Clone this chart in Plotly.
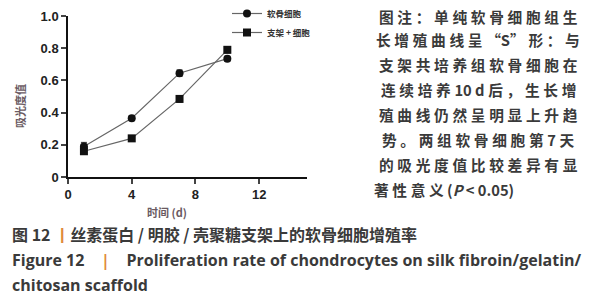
import plotly.graph_objects as go

days = [1, 4, 7, 10]
chondro = [0.19, 0.365, 0.645, 0.735]
chondro_err = [0.025, 0.015, 0.02, 0.015]
scaffold = [0.16, 0.24, 0.485, 0.79]
scaffold_err = [0.015, 0.01, 0.02, 0.02]
names = ["<b>软骨细胞</b>", "<b>支架 + 细胞</b>"]
xticks = [0, 4, 8, 12]
yticks = [0, 0.2, 0.4, 0.6, 0.8, 1.0]
yticklabels = ["0", "0.2", "0.4", "0.6", "0.8", "1.0"]

SP = "\u2005"
note_lines = [
    SP.join("图注：单纯软骨细胞组生"),
    SP.join("长增殖曲线呈") + SP + "“S”" + SP + SP.join("形：与"),
    SP.join("支架共培养组软骨细胞在"),
    SP.join("连续培养") + SP + "10 d" + SP + SP.join("后，生长增"),
    SP.join("殖曲线仍然呈明显上升趋"),
    SP.join("势。两组软骨细胞第") + SP + "7" + SP + "天",
    SP.join("的吸光度值比较差异有显"),
    SP.join("著性意义") + " (<i>P</i> < 0.05)",
]
# horizontal centre and vertical middle (px) of each note line in the reference
note_centres = [478, 478, 478, 478, 478, 478, 478, 444]
note_rows = [16, 39, 64, 89, 114, 139, 164, 189]

OFF = 8  # page body margin offset
W, H = 603, 300
L, R, T, B = 68 - OFF, 307 - OFF, 16 - OFF, 177 - OFF  # plot area in figure px
pw, ph = R - L, B - T

def px(x):
    return (x - OFF - L) / pw

def py(y):
    return (B - (y - OFF)) / ph

fig = go.Figure()
fig.add_trace(go.Scatter(
    x=days, y=chondro, name=names[0], mode="lines+markers",
    line=dict(color="#666666", width=1.2),
    marker=dict(symbol="circle", size=8, color="#111111"),
    error_y=dict(type="data", array=chondro_err, color="#333333", thickness=1, width=3),
))
fig.add_trace(go.Scatter(
    x=days, y=scaffold, name=names[1], mode="lines+markers",
    line=dict(color="#666666", width=1.2),
    marker=dict(symbol="square", size=8, color="#111111"),
    error_y=dict(type="data", array=scaffold_err, color="#333333", thickness=1, width=3),
))

axis_font = dict(family="Liberation Sans, Arial", size=13, color="#222222")
fig.update_xaxes(range=[0, 15], tickvals=xticks, ticktext=["<b>%d</b>" % t for t in xticks],
                 ticks="outside", ticklen=5, tickwidth=1.5,
                 showline=True, linecolor="#111111", linewidth=1.5, showgrid=False,
                 zeroline=False, tickfont=axis_font, automargin=False)
fig.update_yaxes(range=[0, 1.0], tickvals=yticks, ticktext=["<b>%s</b>" % t for t in yticklabels],
                 ticks="outside", ticklen=5, tickwidth=1.5,
                 showline=True, linecolor="#111111", linewidth=1.5, showgrid=False,
                 zeroline=False, tickfont=axis_font, automargin=False)

anns = []
title_color = "#6a5a62"
anns.append(dict(text="<b>吸光度值</b>", x=px(20), y=py(106), xref="paper", yref="paper",
                 xanchor="center", yanchor="middle",
                 textangle=-90, showarrow=False, font=dict(family="Noto Sans CJK SC", size=11, color=title_color)))
anns.append(dict(text="<b>时间 (d)</b>", x=px(167), y=py(212), xref="paper", yref="paper",
                 xanchor="center", yanchor="middle",
                 showarrow=False, font=dict(family="Noto Sans CJK SC", size=11, color=title_color)))

for i, line in enumerate(note_lines):
    anns.append(dict(text="<b>%s</b>" % line, x=px(note_centres[i]), y=py(note_rows[i]),
                     xref="paper", yref="paper",
                     xanchor="center", yanchor="middle", showarrow=False,
                     font=dict(family="Noto Sans CJK SC", size=14.7, color="#3a3a3a")))

cap_font = dict(family="Noto Sans CJK SC", size=16, color="#3a3a3a")
anns.append(dict(text="<b>图 12 </b><b><span style='color:#e08a3a'>丨</span></b><b>丝素蛋白 / 明胶 / 壳聚糖支架上的软骨细胞增殖率</b>",
                 x=px(10), y=py(234), xref="paper", yref="paper", xanchor="left", yanchor="middle",
                 showarrow=False, font=cap_font))
en_font = dict(family="Open Sans", size=16, color="#3a3a3a")
anns.append(dict(text="<b>Figure 12    <span style='color:#e08a3a'>|</span>    Proliferation rate of chondrocytes on silk fibroin/gelatin/</b>",
                 x=px(10), y=py(260), xref="paper", yref="paper", xanchor="left", yanchor="middle",
                 showarrow=False, font=en_font))
anns.append(dict(text="<b>chitosan scaffold</b>",
                 x=px(10), y=py(285), xref="paper", yref="paper", xanchor="left", yanchor="middle",
                 showarrow=False, font=en_font))

fig.update_layout(
    width=W, height=H, margin=dict(l=L, r=W - R, t=T, b=H - B, autoexpand=False),
    paper_bgcolor="white", plot_bgcolor="white",
    annotations=anns,
    legend=dict(x=px(227), y=py(-1), xanchor="left", yanchor="top", bgcolor="rgba(0,0,0,0)",
                font=dict(family="Noto Sans CJK SC", size=8.5, color="#333333"),
                tracegroupgap=0, itemwidth=30),
    showlegend=True,
)
fig.write_html("out.html")
